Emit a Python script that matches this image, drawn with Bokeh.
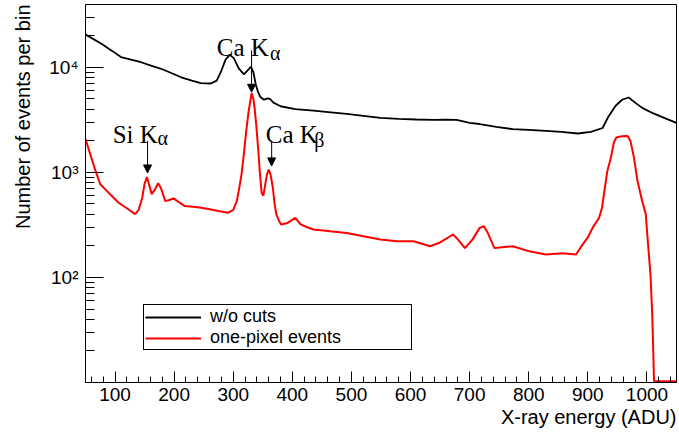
from bokeh.plotting import figure
from bokeh.models import (Range1d, FixedTicker, Label, Arrow, NormalHead,
                          Legend, LegendItem, ColumnDataSource, Title)
from bokeh.embed import file_html
from bokeh.resources import INLINE

# ---------------- data ----------------
black_x = [50, 65, 77, 95, 110, 127, 144, 162, 178, 195, 212, 230, 245, 262,
           272, 280, 287, 294, 301, 309, 318, 324, 330, 334, 338, 342, 346,
           352, 358, 362, 368, 380, 405, 436, 465, 492, 520, 549, 580, 610,
           640, 660, 678, 700, 717, 745, 773, 800, 829, 855, 883, 905, 925,
           935, 947, 958, 969, 980, 992, 1010, 1026, 1050]
black_y = [20500, 18300, 16700, 14300, 12500, 11800, 11150, 10300, 9660, 8800,
           8020, 7450, 7050, 7000, 7460, 9300, 11800, 13100, 12200, 9800, 8550,
           9300, 10100, 9000, 6900, 5800, 5200, 4900, 5050, 5000, 4600, 4250,
           4000, 3860, 3720, 3590, 3440, 3290, 3220, 3180, 3150, 3170, 3150,
           2950, 2880, 2700, 2575, 2530, 2480, 2420, 2340, 2420, 2640, 3400,
           4300, 4900, 5150, 4600, 4100, 3650, 3350, 2950]

red_x = [50, 58, 67, 75, 89, 106, 123, 134, 140, 146, 150, 154, 158, 162, 167,
         173, 178, 185, 192, 199, 208, 218, 232, 246, 260, 275, 291, 300, 306,
         310, 314, 318, 322, 326, 331, 334, 336, 339, 342, 345, 348, 351, 354,
         357, 360, 363, 367, 370, 373, 378, 381, 392, 405, 414, 425, 436, 464,
         492, 520, 549, 577, 605, 633, 650, 672, 680, 692, 705, 717, 724, 730,
         742, 773, 801, 829, 857, 880, 891, 900, 908, 919, 924, 928, 933, 939,
         944, 948, 958, 967, 972, 978, 984, 992, 998, 1001, 1006, 1009, 1012,
         1050]
red_y = [2070, 1490, 1030, 770, 640, 513, 443, 400, 440, 573, 780, 900, 750,
         620, 680, 785, 700, 532, 545, 565, 520, 477, 470, 460, 445, 428, 412,
         440, 532, 700, 957, 1500, 2485, 3800, 5650, 5000, 4150, 2800, 1720,
         1000, 640, 600, 760, 950, 1060, 960, 713, 500, 397, 340, 319, 330,
         369, 319, 300, 286, 275, 265, 246, 229, 221, 221, 198, 215, 256, 230,
         190, 230, 296, 307, 270, 190, 198, 177, 165, 170, 165, 205, 240, 296,
         369, 460, 664, 1030, 1380, 1920, 2140, 2200, 2220, 2000, 1380, 826,
         530, 400, 238, 106, 44, 10.3, 10.3]

x_major = [100, 200, 300, 400, 500, 600, 700, 800, 900, 1000]
x_minor = [v for v in range(60, 1050, 20) if v % 100 != 0]
y_major = [100, 1000, 10000]
y_minor = [m * d for d in (10, 100, 1000, 10000) for m in range(2, 10)
           if m * d < 40000]
y_labels = {100: "10\u00b2", 1000: "10\u00b3", 10000: "10\u2074"}

# ---------------- figure ----------------
SANS = "Liberation Sans"
SERIF = "Liberation Serif"

p = figure(width=678, height=431, x_range=Range1d(50, 1050),
           y_range=Range1d(10, 39500), y_axis_type="log",
           output_backend="svg", toolbar_location=None,
           min_border_left=84, min_border_right=2, min_border_top=4,
           min_border_bottom=49)
p.grid.visible = False
p.outline_line_color = "black"
p.outline_line_width = 1
p.outline_line_alpha = 1.0

xa = p.xaxis[0]
xa.ticker = FixedTicker(ticks=x_major, minor_ticks=x_minor)
xa.major_tick_in = 11
xa.major_tick_out = 0
xa.minor_tick_in = 6
xa.minor_tick_out = 0
xa.major_label_standoff = 5
xa.major_label_text_font = SANS
xa.major_label_text_font_size = "19px"
xa.major_label_text_color = "black"
xa.axis_line_color = "black"
xa.major_tick_line_color = "black"
xa.minor_tick_line_color = "black"

ya = p.yaxis[0]
ya.ticker = FixedTicker(ticks=y_major, minor_ticks=y_minor)
ya.major_label_overrides = y_labels
ya.major_tick_in = 18
ya.major_tick_out = 0
ya.minor_tick_in = 9
ya.minor_tick_out = 0
ya.major_label_standoff = 7
ya.major_label_text_font = SANS
ya.major_label_text_font_size = "19px"
ya.major_label_text_color = "black"
ya.axis_line_color = "black"
ya.major_tick_line_color = "black"
ya.minor_tick_line_color = "black"

# ROOT-style axis titles: right / top aligned
p.add_layout(Title(text="X-ray energy (ADU)", align="right", text_font=SANS,
                   text_font_size="20px", text_font_style="normal",
                   text_color="black", standoff=0, offset=0), "below")
p.add_layout(Title(text="Number of events per bin", align="right",
                   vertical_align="top",
                   text_font=SANS, text_font_size="20px",
                   text_font_style="normal", text_color="black",
                   standoff=22, offset=0), "left")

src_b = ColumnDataSource(dict(x=black_x, y=black_y))
src_r = ColumnDataSource(dict(x=red_x, y=red_y))
rb = p.line("x", "y", source=src_b, line_color="black", line_width=1.8)
rr = p.line("x", "y", source=src_r, line_color="#ff0000", line_width=2)

legend = Legend(items=[LegendItem(label="w/o cuts", renderers=[rb]),
                       LegendItem(label="one-pixel events", renderers=[rr])],
                location=(58, 32), orientation="vertical",
                border_line_color="black", border_line_width=1,
                border_line_alpha=1.0, background_fill_color="white",
                background_fill_alpha=1.0, padding=1, spacing=0, margin=0,
                glyph_width=56, glyph_height=16, label_height=16,
                label_standoff=9, label_width=200,
                label_text_font=SANS, label_text_font_size="18px",
                label_text_color="black")
p.add_layout(legend, "center")

# ---------------- annotations ----------------
def add_text(x, y, text, size, font=SERIF, **kw):
    p.add_layout(Label(x=x, y=y, text=text, text_font=font,
                       text_font_size=size, text_color="black",
                       text_baseline="alphabetic", **kw))

add_text(96, 2310, "Si K", "25px")
add_text(172, 2140, "\u03b1", "20px")
add_text(272, 15420, "Ca K", "25px")
add_text(362, 13520, "\u03b1", "20px")
add_text(355, 2275, "Ca K", "25px")
add_text(437, 2040, "\u03b2", "20px")

for (ax, y0, y1) in [(155, 1995, 986), (331, 14440, 5770), (365, 1995, 1151)]:
    p.add_layout(Arrow(x_start=ax, y_start=y0, x_end=ax, y_end=y1,
                       line_color="black", line_width=1,
                       end=NormalHead(size=8, fill_color="black",
                                      line_color="black", line_width=1)))

open("out.html", "w").write(file_html(p, INLINE))
